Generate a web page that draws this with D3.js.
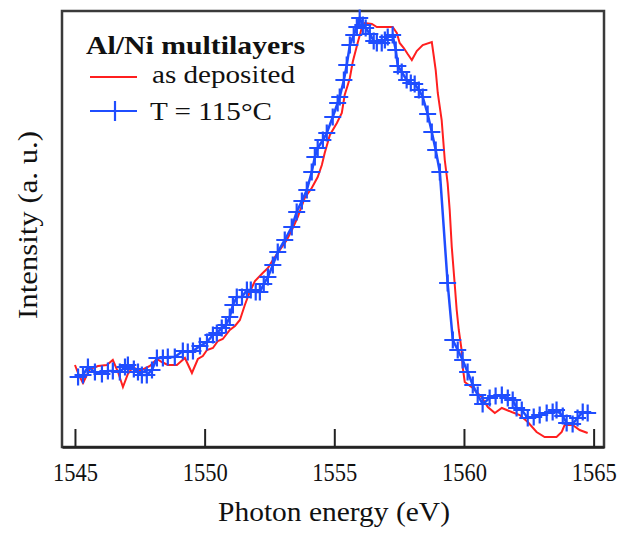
<!DOCTYPE html>
<html>
<head>
  <title>Al/Ni multilayers</title>
  <script src="https://d3js.org/d3.v7.min.js"></script>
  <style>
    body { margin: 0; background: #fff; }
    text { font-family: "Liberation Serif", "DejaVu Serif", serif; fill: #111; }
  </style>
</head>
<body>
  <div id="chart"></div>
  <script>
    // as deposited (red line)
    const redEnergy = [1545.00, 1545.15, 1545.31, 1545.46, 1545.58, 1545.89, 1546.23, 1546.46, 1546.66, 1546.85,
      1547.04, 1547.24, 1547.50, 1547.89, 1548.16, 1548.35, 1548.58, 1548.93, 1549.24, 1549.51,
      1549.74, 1549.93, 1550.09, 1550.32, 1550.51, 1550.70, 1550.97, 1551.17, 1551.36, 1551.55,
      1551.74, 1551.94, 1552.24, 1552.44, 1552.63, 1552.90, 1553.17, 1553.40, 1553.59, 1553.86,
      1554.13, 1554.36, 1554.52, 1554.63, 1554.83, 1555.10, 1555.29, 1555.40, 1555.52, 1555.60,
      1555.71, 1555.91, 1556.06, 1556.18, 1556.45, 1556.64, 1557.02, 1557.25, 1557.41, 1557.52,
      1557.68, 1557.83, 1557.99, 1558.18, 1558.41, 1558.76, 1558.83, 1558.91, 1558.99, 1559.14,
      1559.26, 1559.37, 1559.45, 1559.53, 1559.64, 1559.72, 1559.80, 1559.91, 1559.95, 1560.03,
      1560.34, 1560.68, 1560.92, 1561.19, 1561.46, 1561.84, 1562.15, 1562.46, 1562.80, 1563.11,
      1563.57, 1563.77, 1563.88, 1564.19, 1564.46, 1564.77];
    const redIntensity = [20.5, 18.0, 16.0, 18.0, 19.5, 20.25, 20.5, 21.75, 18.75, 15.0,
      18.25, 20.0, 19.0, 20.25, 22.0, 21.25, 20.5, 20.5, 22.25, 18.5,
      22.0, 22.75, 24.25, 24.75, 26.5, 27.0, 29.25, 30.25, 31.75, 35.5,
      38.75, 41.5, 43.5, 44.75, 46.75, 49.25, 51.75, 54.75, 57.5, 62.25,
      64.75, 67.5, 70.5, 73.5, 78.0, 81.0, 83.5, 88.0, 90.5, 92.25,
      96.25, 101.25, 104.75, 106.0, 105.75, 105.0, 105.0, 105.0, 103.5, 101.0,
      99.75, 98.25, 96.75, 99.0, 100.5, 101.25, 98.0, 94.25, 88.5, 81.75,
      71.75, 66.0, 59.25, 50.0, 41.0, 34.25, 29.25, 24.25, 20.0, 16.25,
      14.75, 12.5, 10.0, 8.5, 9.75, 8.75, 8.0, 6.25, 3.75, 2.5,
      2.5, 3.75, 5.5, 5.5, 4.25, 3.5];

    // T = 115 C (blue line with crosses)
    const blueEnergy = [1545.12, 1545.31, 1545.50, 1545.77, 1546.04, 1546.27, 1546.46, 1546.73, 1546.93, 1547.04,
      1547.27, 1547.43, 1547.58, 1547.77, 1547.97, 1548.16, 1548.39, 1548.58, 1548.85, 1549.16,
      1549.35, 1549.55, 1549.82, 1550.09, 1550.32, 1550.47, 1550.66, 1550.82, 1550.97, 1551.09,
      1551.24, 1551.44, 1551.63, 1551.78, 1551.97, 1552.13, 1552.28, 1552.44, 1552.63, 1552.82,
      1553.09, 1553.36, 1553.55, 1553.75, 1553.94, 1554.13, 1554.25, 1554.36, 1554.56, 1554.71,
      1554.94, 1555.13, 1555.21, 1555.37, 1555.48, 1555.60, 1555.75, 1555.87, 1555.98, 1556.10,
      1556.21, 1556.37, 1556.52, 1556.64, 1556.83, 1556.95, 1557.06, 1557.25, 1557.37, 1557.45,
      1557.60, 1557.79, 1557.95, 1558.10, 1558.26, 1558.41, 1558.60, 1558.76, 1558.91, 1559.07,
      1559.37, 1559.57, 1559.76, 1559.95, 1560.14, 1560.34, 1560.53, 1560.72, 1560.99, 1561.22,
      1561.46, 1561.69, 1561.88, 1562.03, 1562.23, 1562.46, 1562.69, 1562.92, 1563.19, 1563.42,
      1563.57, 1563.81, 1563.96, 1564.19, 1564.38, 1564.58, 1564.77];
    const blueIntensity = [17.5, 18.0, 20.0, 18.75, 18.25, 19.0, 19.0, 18.75, 20.0, 20.5,
      19.5, 18.75, 18.0, 18.0, 19.25, 22.25, 22.25, 22.5, 22.5, 24.0,
      23.75, 24.0, 25.25, 26.25, 28.0, 28.5, 29.75, 30.5, 32.5, 35.5,
      37.5, 37.5, 39.25, 39.25, 38.75, 38.75, 40.75, 42.5, 45.5, 48.75,
      51.75, 55.0, 58.75, 61.5, 64.25, 68.75, 72.5, 74.75, 76.75, 78.5,
      82.5, 86.0, 87.5, 91.75, 95.5, 100.5, 103.0, 105.0, 107.25, 105.5,
      104.75, 103.25, 101.5, 101.0, 101.0, 101.75, 102.5, 103.0, 99.25, 95.25,
      93.75, 91.75, 91.0, 90.75, 89.25, 87.5, 83.25, 78.75, 74.25, 68.75,
      41.0, 26.75, 24.25, 21.75, 18.75, 15.5, 13.0, 10.75, 12.25, 12.75,
      13.0, 12.25, 11.75, 9.75, 9.25, 7.25, 7.5, 8.0, 8.5, 8.75,
      9.25, 7.75, 6.0, 5.75, 7.25, 8.75, 8.5];

    const xTicks = [1545, 1550, 1555, 1560, 1565];
    const seriesNames = ["as deposited", "T = 115\u00B0C"];
    const legendTitle = "Al/Ni multilayers";

    const red = "#ff1f1f";
    const blue = "#1f4dff";

    const W = 618, H = 533;
    const margin = { top: 11, right: 14, bottom: 86, left: 62 };
    const innerW = W - margin.left - margin.right;
    const innerH = H - margin.top - margin.bottom;

    const svg = d3.select("#chart").append("svg")
      .attr("width", W).attr("height", H);
    const g = svg.append("g")
      .attr("transform", "translate(" + margin.left + "," + margin.top + ")");

    const xScale = d3.scaleLinear().domain([1544.5, 1565.4]).range([0, innerW]);
    const yScale = d3.scaleLinear().domain([0, 109]).range([innerH, 0]);

    // frame
    g.append("rect")
      .attr("x", 0).attr("y", 0).attr("width", innerW).attr("height", innerH)
      .attr("fill", "none").attr("stroke", "#3a3a3a").attr("stroke-width", 2.5);

    // bottom axis, ticks pointing inward
    const xAxis = g.append("g")
      .attr("transform", "translate(0," + innerH + ")")
      .call(d3.axisBottom(xScale).tickValues(xTicks).tickFormat(d3.format("d"))
        .tickSizeInner(-18).tickSizeOuter(0).tickPadding(16));
    xAxis.select(".domain").attr("stroke", "#222").attr("stroke-width", 2.5);
    xAxis.selectAll(".tick line").attr("stroke", "#222").attr("stroke-width", 2);
    xAxis.selectAll(".tick text")
      .attr("font-family", "Liberation Serif, serif")
      .attr("font-size", 25).attr("fill", "#111")
      .attr("textLength", 45).attr("lengthAdjust", "spacingAndGlyphs");

    const redData = redEnergy.map((e, i) => [e, redIntensity[i]]);
    const blueData = blueEnergy.map((e, i) => [e, blueIntensity[i]]);

    const line = d3.line().x(d => xScale(d[0])).y(d => yScale(d[1]));

    g.append("path").datum(redData)
      .attr("fill", "none").attr("stroke", red).attr("stroke-width", 2)
      .attr("d", line);

    g.append("path").datum(blueData)
      .attr("fill", "none").attr("stroke", blue).attr("stroke-width", 2.5)
      .attr("d", line);

    const cross = 8.5;
    const crossPath = "M" + (-cross) + ",0H" + cross + "M0," + (-cross) + "V" + cross;
    g.selectAll(".mark").data(blueData).enter()
      .append("path")
      .attr("class", "mark")
      .attr("transform", d => "translate(" + xScale(d[0]) + "," + yScale(d[1]) + ")")
      .attr("d", crossPath)
      .attr("stroke", blue).attr("stroke-width", 2.2).attr("fill", "none");

    // axis titles
    svg.append("text")
      .attr("x", 334).attr("y", 521)
      .attr("text-anchor", "middle")
      .attr("font-size", 27)
      .attr("textLength", 232).attr("lengthAdjust", "spacingAndGlyphs")
      .text("Photon energy (eV)");

    svg.append("text")
      .attr("transform", "translate(37,225) rotate(-90)")
      .attr("text-anchor", "middle")
      .attr("font-size", 27)
      .attr("textLength", 188).attr("lengthAdjust", "spacingAndGlyphs")
      .text("Intensity (a. u.)");

    // legend
    const leg = svg.append("g");
    leg.append("text")
      .attr("x", 86).attr("y", 54)
      .attr("font-size", 25).attr("font-weight", "bold")
      .attr("textLength", 219).attr("lengthAdjust", "spacingAndGlyphs")
      .text(legendTitle);

    leg.append("line")
      .attr("x1", 90).attr("x2", 137).attr("y1", 77).attr("y2", 77)
      .attr("stroke", red).attr("stroke-width", 2);
    leg.append("text")
      .attr("x", 152).attr("y", 83)
      .attr("font-size", 25)
      .attr("textLength", 143).attr("lengthAdjust", "spacingAndGlyphs")
      .text(seriesNames[0]);

    leg.append("line")
      .attr("x1", 90).attr("x2", 137).attr("y1", 111).attr("y2", 111)
      .attr("stroke", blue).attr("stroke-width", 2.2);
    leg.append("path")
      .attr("transform", "translate(115,111)")
      .attr("d", "M0,-10V10")
      .attr("stroke", blue).attr("stroke-width", 2.2);
    leg.append("text")
      .attr("x", 150).attr("y", 120)
      .attr("font-size", 25)
      .attr("textLength", 122).attr("lengthAdjust", "spacingAndGlyphs")
      .text(seriesNames[1]);
  </script>
</body>
</html>
